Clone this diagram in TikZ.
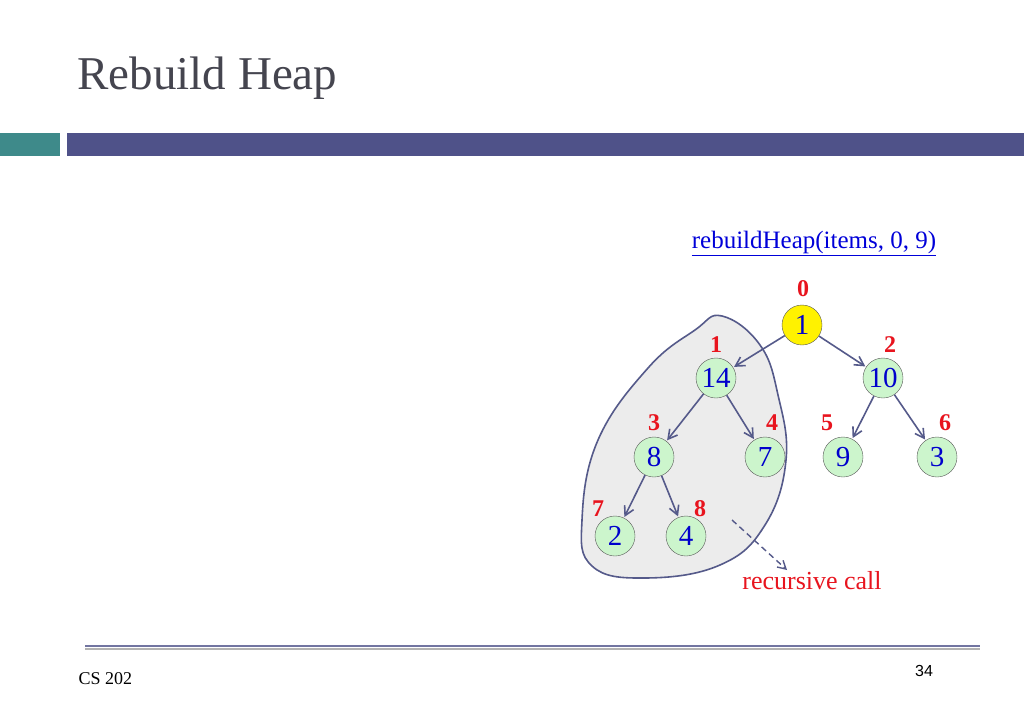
\documentclass[tikz,border=0pt]{standalone}
\usepackage{fontspec}
\setmainfont{Liberation Serif}
\newfontfamily\sansf{Liberation Sans}
\usetikzlibrary{arrows.meta}
\definecolor{nodefill}{HTML}{CCF5CC}
\definecolor{edgec}{HTML}{555A8A}
\definecolor{barc}{HTML}{4F5289}
\definecolor{tealc}{HTML}{3E8A8A}
\definecolor{idxc}{HTML}{E8141E}
\definecolor{titlec}{HTML}{45454F}
\tikzset{
  hn/.style={circle,draw=gray!70!black,fill=nodefill,minimum size=40pt,inner sep=0pt,font=\fontsize{29}{29}\selectfont,text=blue!80!black},
  idx/.style={font=\bfseries\fontsize{24}{24}\selectfont,text=idxc},
  edge/.style={-{Straight Barb[length=9pt,width=10pt]},draw=edgec,line width=1.6pt,shorten >=1pt},
}
\begin{document}
\begin{tikzpicture}[x=1pt,y=-1pt]
\useasboundingbox (0,0) rectangle (1024,709);
\fill[white] (0,0) rectangle (1024,709);
\node[anchor=west,font=\fontsize{47}{47}\selectfont,text=titlec] (title) at (74,78) {Rebuild Heap};
\fill[tealc] (0,133) rectangle (60,156);
\fill[barc] (67,133) rectangle (1024,156);
\draw[gray!60,line width=2pt] (85,649) -- (980,649);
\draw[barc!80,line width=1.5pt] (85,646) -- (980,646);
\node[anchor=west,font=\fontsize{18}{18}\selectfont] (cs) at (75,679) {CS 202};
\node[font=\sansf\fontsize{16}{16}\selectfont] (pg) at (924,671) {34};
\node[font=\fontsize{25}{25}\selectfont,text=blue!85!black] (call) at (814,243) {\underline{rebuildHeap(items, 0, 9)}};
% blob
\draw[edgec,line width=1.6pt,fill=gray!15] plot[smooth cycle,tension=0.7] coordinates {(722,316) (760,345) (778,395) (786,460) (765,525) (720,565) (645,578) (592,566) (582,520) (598,440) (648,368) (695,330)};
\node[hn,fill=yellow] (n0) at (802,325) {1};
\node[hn] (n1) at (716,378) {14};
\node[hn] (n2) at (883,378) {10};
\node[hn] (n3) at (654,457) {8};
\node[hn] (n4) at (765,457) {7};
\node[hn] (n5) at (843,457) {9};
\node[hn] (n6) at (937,457) {3};
\node[hn] (n7) at (615,536) {2};
\node[hn] (n8) at (686,536) {4};
\draw[edge] (n0) -- (n1);
\draw[edge] (n0) -- (n2);
\draw[edge] (n1) -- (n3);
\draw[edge] (n1) -- (n4);
\draw[edge] (n2) -- (n5);
\draw[edge] (n2) -- (n6);
\draw[edge] (n3) -- (n7);
\draw[edge] (n3) -- (n8);
\node[idx] (i0) at (803,289) {0};
\node[idx] (i1) at (716,345) {1};
\node[idx] (i2) at (890,345) {2};
\node[idx] (i3) at (654,423) {3};
\node[idx] (i4) at (772,423) {4};
\node[idx] (i5) at (827,423) {5};
\node[idx] (i6) at (945,423) {6};
\node[idx] (i7) at (598,509) {7};
\node[idx] (i8) at (700,509) {8};
\coordinate (ds) at (732,520);
\coordinate (de) at (787,570);
\draw[edgec,dash pattern=on 6pt off 4pt,line width=1.4pt,-{Straight Barb[length=8pt,width=9pt]}] (ds) -- (de);
\node[font=\fontsize{26}{26}\selectfont,text=idxc] (rc) at (812,581) {recursive call};
\end{tikzpicture}
\end{document}
